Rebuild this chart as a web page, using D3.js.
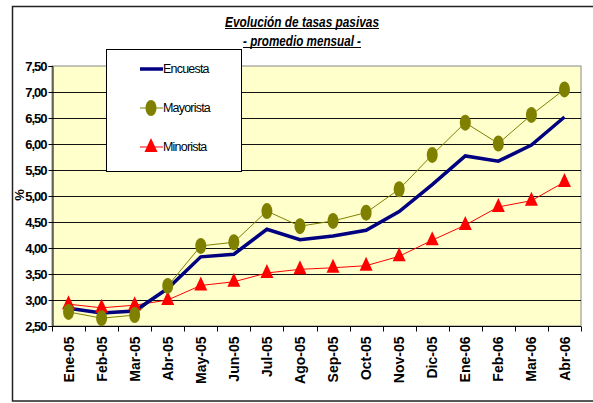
<!DOCTYPE html>
<html>
<head>
<meta charset="utf-8">
<script src="https://cdn.jsdelivr.net/npm/d3@7/dist/d3.min.js"></script>
<style>
  body { margin: 0; background: #fff; }
  text { font-family: Arial, "Liberation Sans", sans-serif; }
</style>
</head>
<body>
<svg id="chart" width="593" height="403"></svg>
<script>
// data
const months = ["Ene-05", "Feb-05", "Mar-05", "Abr-05", "May-05", "Jun-05", "Jul-05", "Ago-05",
    "Sep-05", "Oct-05", "Nov-05", "Dic-05", "Ene-06", "Feb-06", "Mar-06", "Abr-06"];
const encuesta = [2.84, 2.75, 2.79, 3.22, 3.83, 3.88, 4.36, 4.16, 4.23, 4.34, 4.70, 5.22, 5.77, 5.67, 5.98, 6.52];
const mayorista = [2.77, 2.65, 2.71, 3.27, 4.04, 4.11, 4.71, 4.42, 4.52, 4.68, 5.13, 5.79, 6.41, 6.01, 6.56, 7.05];
const minorista = [2.92, 2.85, 2.90, 3.00, 3.28, 3.35, 3.52, 3.59, 3.62, 3.66, 3.84, 4.15, 4.44, 4.79, 4.91, 5.27];
const yTicks = [2.5, 3, 3.5, 4, 4.5, 5, 5.5, 6, 6.5, 7, 7.5];

const svg = d3.select("#chart");
const pLeft = 52, pRight = 581, pTop = 66, pBottom = 326;

// outer chart frame
svg.append("rect")
    .attr("x", 12.5).attr("y", 6.5)
    .attr("width", 600).attr("height", 394.5)
    .attr("fill", "#fff").attr("stroke", "#222").attr("stroke-width", 1.5);

const x = d3.scaleBand().domain(months).range([pLeft, pRight]);
const y = d3.scaleLinear().domain([2.5, 7.5]).range([pBottom, pTop]);

// plot area
svg.append("rect")
    .attr("x", pLeft).attr("y", pTop)
    .attr("width", pRight - pLeft).attr("height", pBottom - pTop)
    .attr("fill", "#FFFFCC").attr("stroke", "#888").attr("stroke-width", 1);

// gridlines
svg.append("g").selectAll("line")
    .data(yTicks.slice(1, -1))
    .join("line")
    .attr("x1", pLeft).attr("x2", pRight)
    .attr("y1", d => Math.round(y(d)) + 0.5).attr("y2", d => Math.round(y(d)) + 0.5)
    .attr("stroke", "#111").attr("stroke-width", 1);

// y axis
const fmt = d => d.toFixed(2).replace(".", ",");
const yAxis = svg.append("g")
    .attr("transform", `translate(${pLeft + 0.5},0)`)
    .call(d3.axisLeft(y).tickValues(yTicks).tickFormat(fmt).tickSize(4).tickPadding(2));
yAxis.select(".domain").attr("stroke", "#000");
yAxis.selectAll(".tick line").attr("stroke", "#000");
yAxis.selectAll("text")
    .attr("font-size", 13).attr("font-weight", "bold")
    .attr("letter-spacing", "-1px").attr("fill", "#000")
    .attr("font-family", "Arial, 'Liberation Sans', sans-serif");

// x axis with ticks between categories
const xAxis = svg.append("g").attr("transform", `translate(0,${pBottom + 0.5})`);
xAxis.append("line")
    .attr("x1", pLeft).attr("x2", pRight)
    .attr("stroke", "#000");
const bounds = d3.range(months.length + 1).map(i => pLeft + i * x.bandwidth());
xAxis.selectAll("line.tk")
    .data(bounds)
    .join("line")
    .attr("class", "tk")
    .attr("x1", d => Math.round(d) + 0.5).attr("x2", d => Math.round(d) + 0.5)
    .attr("y1", 0).attr("y2", 5)
    .attr("stroke", "#000");
xAxis.selectAll("text")
    .data(months)
    .join("text")
    .attr("transform", d => `translate(${x(d) + x.bandwidth() / 2},10) rotate(-90)`)
    .attr("text-anchor", "end")
    .attr("dy", "0.36em")
    .attr("font-size", 14).attr("font-weight", "bold")
    .text(d => d);

// y title
svg.append("text")
    .attr("transform", "translate(24,195) rotate(-90)")
    .attr("text-anchor", "middle")
    .attr("font-size", 13).attr("font-weight", "bold")
    .text("%");

// series
const cx = (d, i) => x(months[i]) + x.bandwidth() / 2;
const line = d3.line().x(cx).y(d => y(d));

svg.append("path").datum(minorista)
    .attr("d", line).attr("fill", "none")
    .attr("stroke", "#FF0000").attr("stroke-width", 1);
svg.append("path").datum(mayorista)
    .attr("d", line).attr("fill", "none")
    .attr("stroke", "#808000").attr("stroke-width", 1);
svg.append("path").datum(encuesta)
    .attr("d", line).attr("fill", "none")
    .attr("stroke", "#000080").attr("stroke-width", 3.5)
    .attr("stroke-linejoin", "miter");

const tri = "M0,-9L6.5,5L-6.5,5Z";
svg.append("g").selectAll("path")
    .data(minorista)
    .join("path")
    .attr("transform", (d, i) => `translate(${cx(d, i)},${y(d)})`)
    .attr("d", tri).attr("fill", "#FF0000");

svg.append("g").selectAll("ellipse")
    .data(mayorista)
    .join("ellipse")
    .attr("cx", cx).attr("cy", d => y(d))
    .attr("rx", 5.5).attr("ry", 8)
    .attr("fill", "#808000");

// title
const title = svg.append("g").attr("font-weight", "bold").attr("font-style", "italic");
[["Evolución de tasas pasivas", 225, 154, 27], ["- promedio mensual -", 243, 118, 46]].forEach(([t, x0, w, yb]) => {
    title.append("text")
        .attr("x", x0).attr("y", yb)
        .attr("textLength", w).attr("lengthAdjust", "spacingAndGlyphs")
        .attr("font-size", 15)
        .text(t);
    title.append("line")
        .attr("x1", x0).attr("x2", x0 + w)
        .attr("y1", yb + 1.5).attr("y2", yb + 1.5)
        .attr("stroke", "#000").attr("stroke-width", 1);
});

// legend
const lg = svg.append("g");
lg.append("rect")
    .attr("x", 106.5).attr("y", 49.5).attr("width", 135).attr("height", 122)
    .attr("fill", "#fff").attr("stroke", "#000").attr("stroke-width", 1);
const legendItems = [
    { name: "Encuesta", color: "#000080", yy: 69 },
    { name: "Mayorista", color: "#808000", yy: 108 },
    { name: "Minorista", color: "#FF0000", yy: 147 }
];
legendItems.forEach((it, i) => {
    lg.append("line")
        .attr("x1", 140).attr("x2", 163)
        .attr("y1", it.yy).attr("y2", it.yy)
        .attr("stroke", it.color).attr("stroke-width", i === 0 ? 3.5 : 1);
    if (i === 1) {
        lg.append("ellipse").attr("cx", 151).attr("cy", it.yy).attr("rx", 5.5).attr("ry", 8).attr("fill", it.color);
    }
    if (i === 2) {
        lg.append("path").attr("transform", `translate(151,${it.yy})`).attr("d", tri).attr("fill", it.color);
    }
    lg.append("text")
        .attr("x", 163).attr("y", it.yy).attr("dy", "0.35em")
        .attr("font-size", 12.5).attr("letter-spacing", "-0.8px")
        .text(it.name);
});
</script>
</body>
</html>
